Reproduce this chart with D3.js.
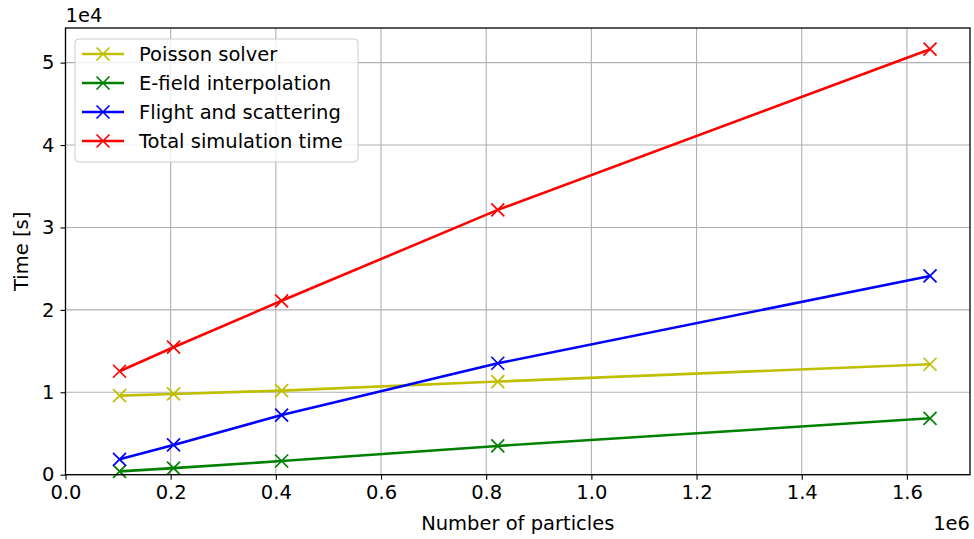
<!DOCTYPE html>
<html>
<head>
<meta charset="utf-8">
<script src="https://cdnjs.cloudflare.com/ajax/libs/d3/7.8.5/d3.min.js"></script>
<style>
  body { margin: 0; background: #fff; }
  text { font-family: "DejaVu Sans", sans-serif; fill: #000; }
</style>
</head>
<body>
<svg id="chart" width="974" height="539"></svg>
<script>
// particle counts and timings (seconds)
var particles = [102750, 205500, 411000, 822000, 1644000];
var poissonSolver = [9600, 9800, 10200, 11300, 13400];
var efieldInterp = [400, 800, 1660, 3490, 6840];
var flightScatter = [1870, 3610, 7240, 13520, 24120];
var totalTime = [12550, 15470, 21100, 32130, 51630];

var seriesNames = ["Poisson solver", "E-field interpolation", "Flight and scattering", "Total simulation time"];
var seriesColors = ["#bfbf00", "#008000", "#0000ff", "#ff0000"];
var xTicks = [0, 0.2e6, 0.4e6, 0.6e6, 0.8e6, 1.0e6, 1.2e6, 1.4e6, 1.6e6];
var yTicks = [0, 1e4, 2e4, 3e4, 4e4, 5e4];

var series = [poissonSolver, efieldInterp, flightScatter, totalTime].map(function (vals, i) {
    return {
        name: seriesNames[i],
        color: seriesColors[i],
        points: vals.map(function (v, j) { return { x: particles[j], y: v }; })
    };
});

var margin = { left: 65.5, right: 4, top: 28, bottom: 64.3 };
var width = 974, height = 539;
var fs = "19.5px";
var svg = d3.select("#chart");

var x = d3.scaleLinear().domain([0, 1.72e6]).range([margin.left, width - margin.right]);
var y = d3.scaleLinear().domain([0, 5.42e4]).range([height - margin.bottom, margin.top]);

// grid
var grid = svg.append("g");
grid.selectAll(".gx").data(xTicks).enter().append("line")
    .attr("x1", function (d) { return x(d); }).attr("x2", function (d) { return x(d); })
    .attr("y1", y.range()[0]).attr("y2", y.range()[1])
    .attr("stroke", "#b0b0b0").attr("stroke-width", 1.1);
grid.selectAll(".gy").data(yTicks).enter().append("line")
    .attr("y1", function (d) { return y(d); }).attr("y2", function (d) { return y(d); })
    .attr("x1", x.range()[0]).attr("x2", x.range()[1])
    .attr("stroke", "#b0b0b0").attr("stroke-width", 1.1);

// lines and markers
var line = d3.line().x(function (d) { return x(d.x); }).y(function (d) { return y(d.y); });
var m = 6.5;
var crossPath = "M" + (-m) + "," + (-m) + "L" + m + "," + m + "M" + (-m) + "," + m + "L" + m + "," + (-m);

var sg = svg.selectAll(".series").data(series).enter().append("g");
sg.append("path")
    .attr("d", function (d) { return line(d.points); })
    .attr("fill", "none")
    .attr("stroke", function (d) { return d.color; })
    .attr("stroke-width", 2.6);
sg.each(function (s) {
    d3.select(this).selectAll(".mk").data(s.points).enter().append("path")
        .attr("transform", function (d) { return "translate(" + x(d.x) + "," + y(d.y) + ")"; })
        .attr("d", crossPath)
        .attr("stroke", s.color).attr("stroke-width", 1.7).attr("fill", "none");
});

// axes
var xAxis = d3.axisBottom(x).tickValues(xTicks).tickSize(5).tickPadding(5)
    .tickFormat(function (d) { return (d / 1e6).toFixed(1); });
var yAxis = d3.axisLeft(y).tickValues(yTicks).tickSize(5).tickPadding(6)
    .tickFormat(function (d) { return d / 1e4; });

var gx = svg.append("g").attr("transform", "translate(0," + y.range()[0] + ")").call(xAxis);
var gy = svg.append("g").attr("transform", "translate(" + x.range()[0] + ",0)").call(yAxis);
[gx, gy].forEach(function (g) {
    g.select(".domain").remove();
    g.selectAll("line").attr("stroke", "#000").attr("stroke-width", 1.1);
    g.selectAll("text").style("font-size", fs).style("font-family", "DejaVu Sans");
});

// frame
svg.append("rect")
    .attr("x", x.range()[0]).attr("y", y.range()[1])
    .attr("width", x.range()[1] - x.range()[0]).attr("height", y.range()[0] - y.range()[1])
    .attr("fill", "none").attr("stroke", "#000").attr("stroke-width", 1.3);

// labels
svg.append("text").attr("x", (x.range()[0] + x.range()[1]) / 2).attr("y", 530)
    .attr("text-anchor", "middle").style("font-size", fs).text("Number of particles");
svg.append("text").attr("transform", "translate(28," + ((y.range()[0] + y.range()[1]) / 2) + ") rotate(-90)")
    .attr("text-anchor", "middle").style("font-size", fs).text("Time [s]");
svg.append("text").attr("x", x.range()[1]).attr("y", 530)
    .attr("text-anchor", "end").style("font-size", fs).text("1e6");
svg.append("text").attr("x", x.range()[0]).attr("y", 22)
    .attr("text-anchor", "start").style("font-size", fs).text("1e4");

// legend
var lg = svg.append("g").attr("transform", "translate(75,39)");
lg.append("rect").attr("width", 283).attr("height", 123).attr("rx", 4)
    .attr("fill", "#fff").attr("fill-opacity", 0.8).attr("stroke", "#cccccc").attr("stroke-width", 1);
var items = lg.selectAll(".item").data(series).enter().append("g")
    .attr("transform", function (d, i) { return "translate(0," + (15 + i * 29) + ")"; });
items.append("line").attr("x1", 7).attr("x2", 49).attr("y1", 0).attr("y2", 0)
    .attr("stroke", function (d) { return d.color; }).attr("stroke-width", 2.6);
items.append("path").attr("transform", "translate(28,0)").attr("d", crossPath)
    .attr("stroke", function (d) { return d.color; }).attr("stroke-width", 1.7);
items.append("text").attr("x", 64).attr("y", 7).style("font-size", fs)
    .text(function (d) { return d.name; });
</script>
</body>
</html>
